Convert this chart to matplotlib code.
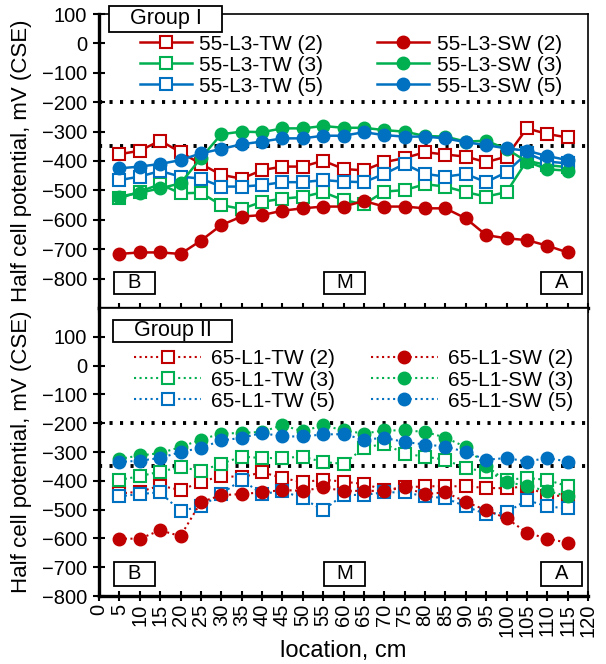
import matplotlib
matplotlib.use('Agg')
import matplotlib.pyplot as plt
from matplotlib.patches import Rectangle

plt.rcParams['font.family'] = ['Liberation Sans', 'DejaVu Sans']

# ── data ──
location = [5, 10, 15, 20, 25, 30, 35, 40, 45, 50, 55, 60,
            65, 70, 75, 80, 85, 90, 95, 100, 105, 110, 115]

# Group I
g1_tw2 = [-377, -365, -331, -370, -410, -447, -460, -431, -419, -419, -399, -427,
          -432, -404, -390, -370, -378, -385, -404, -385, -289, -308, -320]
g1_tw3 = [-527, -504, -479, -510, -508, -550, -563, -539, -528, -522, -506, -533,
          -547, -504, -499, -479, -487, -506, -521, -506, -399, -414, -421]
g1_tw5 = [-465, -453, -434, -453, -460, -487, -487, -482, -472, -472, -465, -470,
          -472, -444, -410, -444, -453, -444, -472, -438, -374, -402, -408]
g1_sw2 = [-716, -711, -711, -716, -671, -618, -589, -584, -569, -561, -555, -555,
          -536, -555, -555, -561, -561, -595, -652, -663, -669, -688, -711]
g1_sw3 = [-521, -508, -493, -476, -390, -309, -300, -302, -289, -289, -281, -287,
          -287, -295, -300, -315, -317, -334, -331, -359, -402, -428, -433]
g1_sw5 = [-425, -419, -410, -397, -374, -359, -343, -334, -323, -323, -314, -314,
          -302, -312, -317, -317, -323, -336, -346, -357, -365, -383, -397]

# Group II
g2_tw2 = [-444, -438, -417, -432, -405, -382, -388, -370, -390, -405, -396, -403,
          -411, -431, -423, -419, -419, -419, -425, -426, -419, -452, -452]
g2_tw3 = [-397, -384, -368, -353, -365, -341, -316, -321, -321, -316, -335, -341,
          -286, -271, -306, -316, -327, -356, -368, -397, -390, -397, -419]
g2_tw5 = [-454, -446, -440, -505, -489, -446, -396, -446, -435, -461, -502, -449,
          -449, -440, -440, -454, -460, -489, -516, -510, -467, -489, -496]
g2_sw2 = [-601, -601, -572, -592, -474, -450, -446, -440, -432, -435, -423, -435,
          -435, -435, -423, -446, -440, -473, -502, -530, -580, -601, -615]
g2_sw3 = [-324, -312, -304, -283, -257, -236, -234, -230, -207, -228, -207, -225,
          -236, -225, -225, -230, -250, -283, -347, -403, -419, -435, -454]
g2_sw5 = [-335, -330, -321, -300, -286, -260, -251, -234, -246, -246, -239, -238,
          -257, -251, -265, -274, -281, -300, -327, -321, -333, -321, -333]

ref_levels = [-200, -350]
x_ticks = list(range(0, 125, 5))
y_ticks = list(range(-800, 200, 100))

RED, GREEN, BLUE = '#C00000', '#00B050', '#0070C0'

# ── figure ──
fig = plt.figure(figsize=(6.06, 6.64), dpi=100)
ax1 = fig.add_axes([99/606, 356/664, 489/606, 294/664])
ax2 = fig.add_axes([99/606, 68/664, 489/606, 288/664])


def style_axes(ax, ylim, show_xlabels):
    ax.set_xlim(0, 120)
    ax.set_ylim(*ylim)
    ax.set_xticks(x_ticks)
    ax.set_yticks(y_ticks)
    ax.tick_params(axis='y', direction='inout', length=9, width=1.5, labelsize=14.5, pad=4)
    ax.tick_params(axis='x', direction='inout', length=7, width=1.5, labelsize=14.5,
                   labelrotation=90, pad=2, labelbottom=show_xlabels)
    for side in ('left', 'bottom'):
        ax.spines[side].set_linewidth(2.4)
    for side in ('top', 'right'):
        ax.spines[side].set_linewidth(1.2)
    for lv in ref_levels:
        ax.axhline(lv, color='k', linestyle=(0, (0.8, 1.9)), linewidth=2.8, zorder=1)
    ax.set_ylabel('Half cell potential, mV (CSE)', fontsize=16, labelpad=2)


def add_tag(ax, xc, y0, h, text):
    ax.add_patch(Rectangle((xc - 5, y0), 10, h, facecolor='white',
                           edgecolor='k', linewidth=1.3, zorder=6))
    ax.text(xc, y0 + h / 2, text, ha='center', va='center', fontsize=14.5, zorder=7)


def add_group(ax, x0, x1, y0, y1, text):
    ax.add_patch(Rectangle((x0, y0), x1 - x0, y1 - y0, facecolor='white',
                           edgecolor='k', linewidth=1.3, zorder=10, clip_on=False))
    ax.text((x0 + x1) / 2, (y0 + y1) / 2, text, ha='center', va='center',
            fontsize=15.5, zorder=11, clip_on=False)


# Group I (solid lines)
for vals, col, mk, lab in [(g1_tw2, RED, 's', '55-L3-TW (2)'),
                           (g1_tw3, GREEN, 's', '55-L3-TW (3)'),
                           (g1_tw5, BLUE, 's', '55-L3-TW (5)'),
                           (g1_sw2, RED, 'o', '55-L3-SW (2)'),
                           (g1_sw3, GREEN, 'o', '55-L3-SW (3)'),
                           (g1_sw5, BLUE, 'o', '55-L3-SW (5)')]:
    if mk == 's':
        ax1.plot(location, vals, color=col, linewidth=1.8, marker='s', markersize=8,
                 markerfacecolor='white', markeredgecolor=col, markeredgewidth=1.5,
                 label=lab, zorder=3)
    else:
        ax1.plot(location, vals, color=col, linewidth=1.8, marker='o', markersize=9,
                 markerfacecolor=col, markeredgecolor=col, label=lab, zorder=3)

# Group II (dotted lines)
for vals, col, mk, lab in [(g2_tw2, RED, 's', '65-L1-TW (2)'),
                           (g2_tw3, GREEN, 's', '65-L1-TW (3)'),
                           (g2_tw5, BLUE, 's', '65-L1-TW (5)'),
                           (g2_sw2, RED, 'o', '65-L1-SW (2)'),
                           (g2_sw3, GREEN, 'o', '65-L1-SW (3)'),
                           (g2_sw5, BLUE, 'o', '65-L1-SW (5)')]:
    if mk == 's':
        ax2.plot(location, vals, color=col, linewidth=1.5, linestyle=':', marker='s',
                 markersize=8, markerfacecolor='white', markeredgecolor=col,
                 markeredgewidth=1.5, label=lab, zorder=3)
    else:
        ax2.plot(location, vals, color=col, linewidth=1.5, linestyle=':', marker='o',
                 markersize=9, markerfacecolor=col, markeredgecolor=col,
                 label=lab, zorder=3)

style_axes(ax1, (-900, 100), False)
style_axes(ax2, (-800, 200), True)
ax2.set_xlabel('location, cm', fontsize=17, labelpad=2)
ax1.yaxis.set_label_coords(-0.137, 0.5)
ax2.yaxis.set_label_coords(-0.137, 0.5)

ax1.legend(ncol=2, loc='upper left', bbox_to_anchor=(0.084, 0.93), frameon=False,
           fontsize=15, handlelength=2.5, handletextpad=0.34, columnspacing=2.6,
           labelspacing=0.1, borderpad=0, borderaxespad=0)
ax2.legend(ncol=2, loc='upper left', bbox_to_anchor=(0.072, 0.856), frameon=False,
           fontsize=15, handlelength=3.2, handletextpad=0.48, columnspacing=1.73,
           labelspacing=0.1, borderpad=0, borderaxespad=0)

for xc, t in [(8.7, 'B'), (60.3, 'M'), (113.5, 'A')]:
    add_tag(ax1, xc, -852, 76, t)
    add_tag(ax2, xc, -765, 84, t)

add_group(ax1, 2.5, 30.2, 39, 127, 'Group I')
add_group(ax2, 3.4, 32.7, 82, 160, 'Group II')

fig.savefig('out.png', dpi=100)
